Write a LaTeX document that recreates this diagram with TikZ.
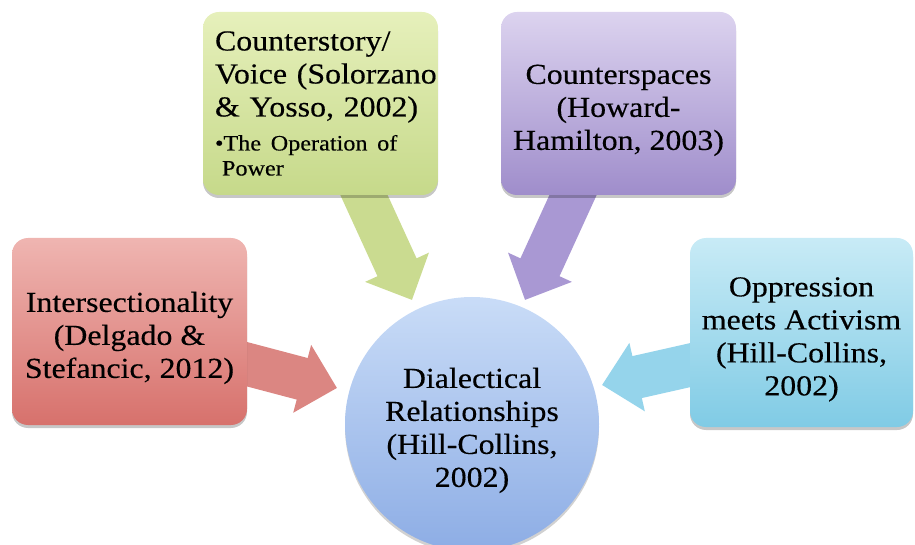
\documentclass[tikz,border=0pt]{standalone}
\usepackage{fontspec}
\setmainfont{Liberation Serif}[FakeStretch=1.1, FakeBold=0.3]
\usetikzlibrary{arrows.meta,shadows}

\definecolor{redTop}{HTML}{EFB5B1}
\definecolor{redBot}{HTML}{D7716C}
\definecolor{greenTop}{HTML}{E6F0BB}
\definecolor{greenBot}{HTML}{C6D98A}
\definecolor{purpleTop}{HTML}{DCD3EF}
\definecolor{purpleBot}{HTML}{9F8DCB}
\definecolor{blueTop}{HTML}{C8EBF6}
\definecolor{blueBot}{HTML}{80CBE5}
\definecolor{circTop}{HTML}{C9DCF7}
\definecolor{circBot}{HTML}{8DADE5}
\definecolor{redArrow}{HTML}{DB8682}
\definecolor{greenArrow}{HTML}{CADB90}
\definecolor{purpleArrow}{HTML}{A998D3}
\definecolor{blueArrow}{HTML}{95D4EB}

% taller first line, so a centred text block sits a little lower
\newcommand{\toprow}{\rule{0pt}{33pt}}

\tikzset{
  topic/.style={rectangle, rounded corners=16pt, minimum width=235pt,
    minimum height=184pt, align=center, inner sep=0pt,
    font=\fontsize{29}{33}\selectfont,
    drop shadow={shadow xshift=0pt, shadow yshift=-3pt, opacity=0.22, fill=black}},
  hub/.style={circle, minimum size=254pt, align=center, inner sep=0pt,
    font=\fontsize{29}{33}\selectfont, top color=circTop, bottom color=circBot,
    drop shadow={shadow xshift=0pt, shadow yshift=-3pt, opacity=0.18, fill=black}},
  blockarrow/.style={line width=43pt, -{Triangle[length=36pt, width=68pt]}}
}

\begin{document}
\begin{tikzpicture}[x=1pt, y=1pt]
  \useasboundingbox (0,0) rectangle (915,544);

  % block arrows, drawn first so their shafts run under the boxes
  \coordinate (gStart) at (358,362);
  \coordinate (gTip)   at (412,244);
  \coordinate (pStart) at (579,362);
  \coordinate (pTip)   at (525,244);
  \coordinate (rStart) at (231,184);
  \coordinate (rTip)   at (337,156);
  \coordinate (bStart) at (704,182);
  \coordinate (bTip)   at (602,159);

  \draw[blockarrow, draw=greenArrow, fill=greenArrow] (gStart) -- (gTip);
  \draw[blockarrow, draw=purpleArrow, fill=purpleArrow] (pStart) -- (pTip);
  \draw[blockarrow, draw=redArrow, fill=redArrow] (rStart) -- (rTip);
  \draw[blockarrow, draw=blueArrow, fill=blueArrow] (bStart) -- (bTip);

  % topic boxes
  \node[topic, top color=greenTop, bottom color=greenBot, minimum height=183pt,
        text width=235pt, align=left] (voice) at (320.5,440.5)
    {\raggedright\hyphenpenalty=10000 \leftskip=12pt
     Counterstory/\\Voice (Solorzano\\\&~Yosso, 2002)\par\vspace{9pt}%
     {\fontsize{22}{25}\selectfont •The Operation of\\\hspace*{7pt}Power\par}};

  \node[topic, top color=purpleTop, bottom color=purpleBot, minimum height=183pt]
    (spaces) at (618.5,440.5)
    {\toprow Counterspaces\\(Howard-\\Hamilton, 2003)};

  \node[topic, top color=redTop, bottom color=redBot, minimum height=187pt]
    (inter) at (129.5,212.5)
    {\toprow Intersectionality\\(Delgado \&\\Stefancic, 2012)};

  \node[topic, top color=blueTop, bottom color=blueBot, minimum width=223pt,
        minimum height=189pt]
    (oppr) at (801.5,211.5)
    {\toprow Oppression\\meets Activism\\(Hill-Collins,\\2002)};

  % central circle
  \node[hub] (dial) at (472,120)
    {\toprow Dialectical\\Relationships\\(Hill-Collins,\\2002)};
\end{tikzpicture}
\end{document}
